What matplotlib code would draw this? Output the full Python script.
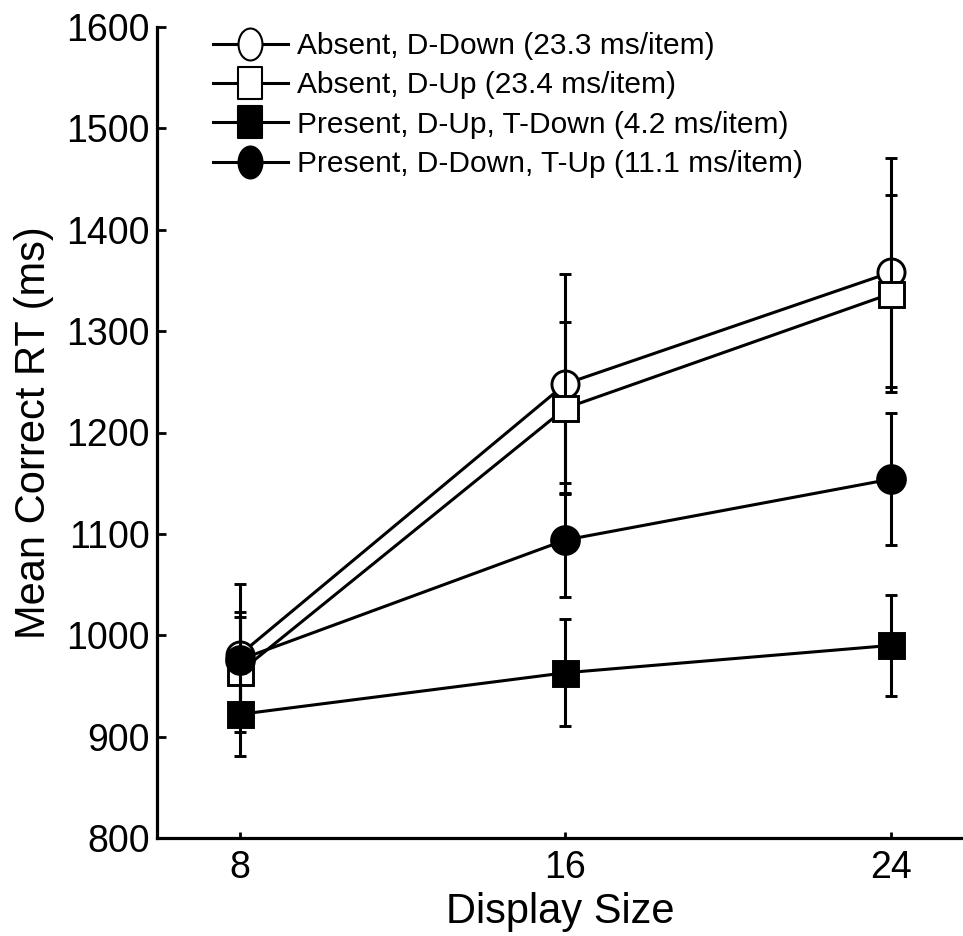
import matplotlib
matplotlib.use('Agg')
import matplotlib.pyplot as plt
from matplotlib import font_manager
from matplotlib.lines import Line2D
from matplotlib.path import Path
from matplotlib.transforms import Affine2D

plt.rcParams['font.family'] = ['Liberation Sans', 'DejaVu Sans']

# Display sizes (x) and mean correct RT per condition, with error bars
display_size = [8, 16, 24]

absent_ddown = [981, 1248, 1358]
absent_ddown_err = [70, 108, 113]

absent_dup = [964, 1224, 1337]
absent_dup_err = [59, 85, 97]

present_dup_tdown = [922, 963, 990]
present_dup_tdown_err = [41, 53, 50]

present_ddown_tup = [976, 1094, 1154]
present_ddown_tup_err = [42, 56, 65]

labels = ['Absent, D-Down (23.3 ms/item)',
          'Absent, D-Up (23.4 ms/item)',
          'Present, D-Up, T-Down (4.2 ms/item)',
          'Present, D-Down, T-Up (11.1 ms/item)']

W, H = 963, 936
fig = plt.figure(figsize=(W / 100, H / 100), dpi=100)
ax = fig.add_axes([157 / W, (H - 838) / H, (W - 157) / W, (838 - 27) / H])

lw = 2.2
series = [
    (absent_ddown, absent_ddown_err, 'o', 'white', 19.5),
    (absent_dup, absent_dup_err, 's', 'white', 18),
    (present_dup_tdown, present_dup_tdown_err, 's', 'black', 18),
    (present_ddown_tup, present_ddown_tup_err, 'o', 'black', 20),
]
for i, (y, err, mk, fc, ms) in enumerate(series):
    ax.errorbar(display_size, y, yerr=err, color='black', lw=lw,
                marker=mk, markersize=ms, markerfacecolor=fc,
                markeredgecolor='black', markeredgewidth=2.1,
                elinewidth=lw, capsize=4.5, capthick=lw, zorder=3 + i)

ax.set_xlim(5.96, 25.77)
ax.set_ylim(800, 1600)
ax.set_xticks(display_size)
ax.set_yticks(range(800, 1601, 100))

for side in ['top', 'right']:
    ax.spines[side].set_visible(False)
for side in ['left', 'bottom']:
    ax.spines[side].set_linewidth(2.3)

ax.tick_params(axis='y', direction='in', length=6.5, width=2, labelsize=27, pad=5)
ax.tick_params(axis='x', direction='in', length=4.5, width=2, labelsize=27, pad=9)

ax.set_xlabel('Display Size', fontsize=30, labelpad=4)
ax.set_ylabel('Mean Correct RT (ms)', fontsize=30, labelpad=9)

# legend: markers are drawn squeezed sideways, as in the figure
ellipse = Path.unit_circle().transformed(Affine2D().scale(0.75, 1.0))
rect = Path.unit_rectangle().transformed(Affine2D().translate(-0.5, -0.5).scale(0.75, 1.0))
handles = [
    Line2D([], [], color='black', lw=lw, marker=ellipse, ms=23, mfc='white', mec='black', mew=1.5),
    Line2D([], [], color='black', lw=lw, marker=rect, ms=23, mfc='white', mec='black', mew=1.5),
    Line2D([], [], color='black', lw=lw, marker=rect, ms=23, mfc='black', mec='black', mew=1.5),
    Line2D([], [], color='black', lw=lw, marker=ellipse, ms=23, mfc='black', mec='black', mew=1.5),
]

names = {f.name for f in font_manager.fontManager.ttflist}
if 'Liberation Sans Narrow' in names:
    leg_font = {'family': 'Liberation Sans Narrow', 'size': 26}
else:
    leg_font = {'family': 'Liberation Sans', 'size': 21.5}

ax.legend(handles, labels, loc='upper left',
          bbox_to_anchor=(213 / W, 1 - 32 / H), bbox_transform=fig.transFigure,
          frameon=False, prop=leg_font, borderpad=0, borderaxespad=0,
          handlelength=2.5, handletextpad=0.3, labelspacing=0.38)

fig.savefig('out.png', dpi=100)
